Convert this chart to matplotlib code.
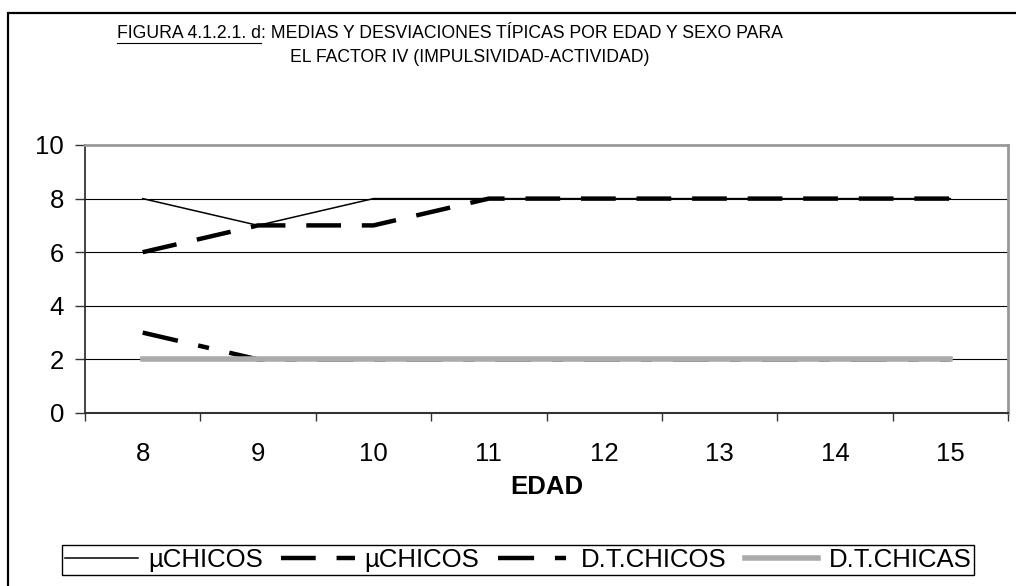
import matplotlib
matplotlib.use("Agg")
import matplotlib.pyplot as plt
from matplotlib.patches import Rectangle
from matplotlib.lines import Line2D

plt.rcParams['font.family'] = ['Liberation Sans', 'DejaVu Sans']
plt.rcParams['lines.scale_dashes'] = False

edad = [8, 9, 10, 11, 12, 13, 14, 15]
mu_chicos = [8, 7, 8, 8, 8, 8, 8, 8]
mu_chicos_2 = [6, 7, 7, 8, 8, 8, 8, 8]
dt_chicos = [3, 2, 2, 2, 2, 2, 2, 2]
dt_chicas = [2, 2, 2, 2, 2, 2, 2, 2]
labels = ['µCHICOS', 'µCHICOS', 'D.T.CHICOS', 'D.T.CHICAS']
yticks = [0, 2, 4, 6, 8, 10]

W, H = 1016, 586
fig = plt.figure(figsize=(W / 100, H / 100), dpi=100)

# outer frame of the chart object (right/bottom cut off)
fig.patches.append(Rectangle((8 / W, -0.2), 1.5, 1 - 13 / H + 0.2,
                             transform=fig.transFigure, fill=False,
                             edgecolor='black', linewidth=1.6))

ax = fig.add_axes([85 / W, 1 - 413 / H, 923 / W, 268 / H])

h1, = ax.plot(edad, mu_chicos, color='black', lw=1.1)
h2, = ax.plot(edad, mu_chicos_2, color='black', lw=3.2, dashes=(25, 15))
h3, = ax.plot(edad, dt_chicos, color='black', lw=3.2, dashes=(26, 15, 8, 15))
h4, = ax.plot(edad, dt_chicas, color='#ababab', lw=4.0)

fs = 18.5
ax.set_xlim(7.5, 15.5)
ax.set_ylim(0, 10)
ax.set_yticks(yticks)
ax.set_xticks(edad)
ax.set_xticks([x + 0.5 for x in range(7, 16)], minor=True)
ax.tick_params(axis='x', which='major', length=0, pad=21, labelsize=fs)
ax.tick_params(axis='x', which='minor', length=6, width=1, direction='out', color='#333333')
ax.tick_params(axis='y', length=7, width=1, direction='out', pad=8, labelsize=fs, color='#333333')

for y in yticks[1:-1]:
    ax.axhline(y, color='black', lw=0.8, zorder=0.5)

ax.spines['top'].set_color('#999999')
ax.spines['right'].set_color('#999999')
ax.spines['top'].set_linewidth(2)
ax.spines['right'].set_linewidth(2)
ax.spines['left'].set_color('#222222')
ax.spines['bottom'].set_color('#333333')
ax.spines['left'].set_linewidth(1.2)
ax.spines['bottom'].set_linewidth(1.5)

ax.set_xlabel('EDAD', fontsize=fs, fontweight='bold', labelpad=6)

# title, first part underlined
tsize = 12.7
t1 = fig.text(450 / W, 1 - 33 / H,
              'FIGURA 4.1.2.1. d: MEDIAS Y DESVIACIONES TÍPICAS POR EDAD Y SEXO PARA',
              ha='center', va='center', fontsize=tsize)
fig.text(470 / W, 1 - 57 / H, 'EL FACTOR IV (IMPULSIVIDAD-ACTIVIDAD)',
         ha='center', va='center', fontsize=tsize)

fig.canvas.draw()
r = fig.canvas.get_renderer()
bb = t1.get_window_extent(r)
tmp = fig.text(0, 0, 'FIGURA 4.1.2.1. d', fontsize=tsize)
pw = tmp.get_window_extent(r).width
tmp.remove()
uy = bb.y0 - 1
fig.add_artist(Line2D([bb.x0 / W, (bb.x0 + pw) / W], [uy / H, uy / H],
                      transform=fig.transFigure, color='black', lw=0.8))

leg = fig.legend([h1, h2, h3, h4], labels, loc='center',
                 bbox_to_anchor=(518 / W, 1 - 560 / H), ncol=4,
                 fontsize=fs, frameon=True, fancybox=False,
                 edgecolor='black', framealpha=1, handlelength=2.85,
                 handletextpad=0.39, columnspacing=0.72, borderpad=0.12,
                 borderaxespad=0)
leg.get_frame().set_linewidth(1.0)

fig.savefig('out.png', dpi=100)
